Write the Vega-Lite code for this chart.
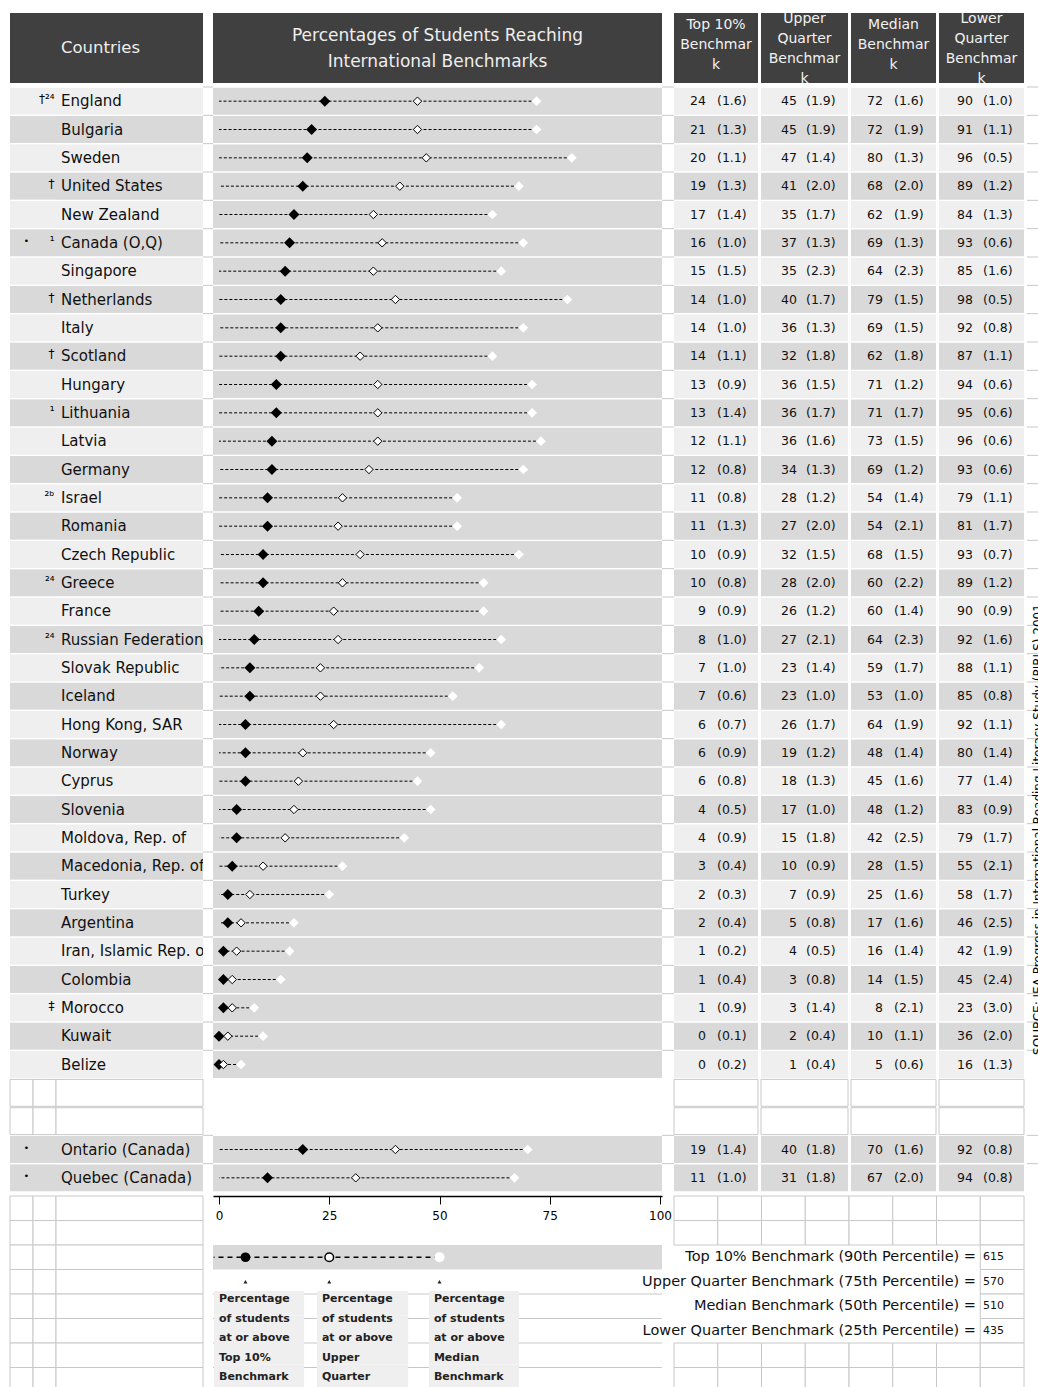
{
  "$schema": "https://vega.github.io/schema/vega-lite/v6.json",
  "padding": {"left": 9, "top": 13, "right": 0, "bottom": 0},
  "spacing": 3,
  "config": {"view": {"stroke": null}, "text": {"font": "DejaVu Sans"}, "axis": {"labelFont": "DejaVu Sans"}},
  "datasets": {
    "rows": [
      {"country": "England", "note": "†²⁴", "bullet": "", "shade": "light", "top10": 24, "top10SE": 1.6, "upper": 45, "upperSE": 1.9, "median": 72, "medianSE": 1.6, "lower": 90, "lowerSE": 1.0},
      {"country": "Bulgaria", "note": "", "bullet": "", "shade": "dark", "top10": 21, "top10SE": 1.3, "upper": 45, "upperSE": 1.9, "median": 72, "medianSE": 1.9, "lower": 91, "lowerSE": 1.1},
      {"country": "Sweden", "note": "", "bullet": "", "shade": "light", "top10": 20, "top10SE": 1.1, "upper": 47, "upperSE": 1.4, "median": 80, "medianSE": 1.3, "lower": 96, "lowerSE": 0.5},
      {"country": "United States", "note": "†", "bullet": "", "shade": "dark", "top10": 19, "top10SE": 1.3, "upper": 41, "upperSE": 2.0, "median": 68, "medianSE": 2.0, "lower": 89, "lowerSE": 1.2},
      {"country": "New Zealand", "note": "", "bullet": "", "shade": "light", "top10": 17, "top10SE": 1.4, "upper": 35, "upperSE": 1.7, "median": 62, "medianSE": 1.9, "lower": 84, "lowerSE": 1.3},
      {"country": "Canada (O,Q)", "note": "¹", "bullet": "•", "shade": "dark", "top10": 16, "top10SE": 1.0, "upper": 37, "upperSE": 1.3, "median": 69, "medianSE": 1.3, "lower": 93, "lowerSE": 0.6},
      {"country": "Singapore", "note": "", "bullet": "", "shade": "light", "top10": 15, "top10SE": 1.5, "upper": 35, "upperSE": 2.3, "median": 64, "medianSE": 2.3, "lower": 85, "lowerSE": 1.6},
      {"country": "Netherlands", "note": "†", "bullet": "", "shade": "dark", "top10": 14, "top10SE": 1.0, "upper": 40, "upperSE": 1.7, "median": 79, "medianSE": 1.5, "lower": 98, "lowerSE": 0.5},
      {"country": "Italy", "note": "", "bullet": "", "shade": "light", "top10": 14, "top10SE": 1.0, "upper": 36, "upperSE": 1.3, "median": 69, "medianSE": 1.5, "lower": 92, "lowerSE": 0.8},
      {"country": "Scotland", "note": "†", "bullet": "", "shade": "dark", "top10": 14, "top10SE": 1.1, "upper": 32, "upperSE": 1.8, "median": 62, "medianSE": 1.8, "lower": 87, "lowerSE": 1.1},
      {"country": "Hungary", "note": "", "bullet": "", "shade": "light", "top10": 13, "top10SE": 0.9, "upper": 36, "upperSE": 1.5, "median": 71, "medianSE": 1.2, "lower": 94, "lowerSE": 0.6},
      {"country": "Lithuania", "note": "¹", "bullet": "", "shade": "dark", "top10": 13, "top10SE": 1.4, "upper": 36, "upperSE": 1.7, "median": 71, "medianSE": 1.7, "lower": 95, "lowerSE": 0.6},
      {"country": "Latvia", "note": "", "bullet": "", "shade": "light", "top10": 12, "top10SE": 1.1, "upper": 36, "upperSE": 1.6, "median": 73, "medianSE": 1.5, "lower": 96, "lowerSE": 0.6},
      {"country": "Germany", "note": "", "bullet": "", "shade": "dark", "top10": 12, "top10SE": 0.8, "upper": 34, "upperSE": 1.3, "median": 69, "medianSE": 1.2, "lower": 93, "lowerSE": 0.6},
      {"country": "Israel", "note": "²ᵇ", "bullet": "", "shade": "light", "top10": 11, "top10SE": 0.8, "upper": 28, "upperSE": 1.2, "median": 54, "medianSE": 1.4, "lower": 79, "lowerSE": 1.1},
      {"country": "Romania", "note": "", "bullet": "", "shade": "dark", "top10": 11, "top10SE": 1.3, "upper": 27, "upperSE": 2.0, "median": 54, "medianSE": 2.1, "lower": 81, "lowerSE": 1.7},
      {"country": "Czech Republic", "note": "", "bullet": "", "shade": "light", "top10": 10, "top10SE": 0.9, "upper": 32, "upperSE": 1.5, "median": 68, "medianSE": 1.5, "lower": 93, "lowerSE": 0.7},
      {"country": "Greece", "note": "²⁴", "bullet": "", "shade": "dark", "top10": 10, "top10SE": 0.8, "upper": 28, "upperSE": 2.0, "median": 60, "medianSE": 2.2, "lower": 89, "lowerSE": 1.2},
      {"country": "France", "note": "", "bullet": "", "shade": "light", "top10": 9, "top10SE": 0.9, "upper": 26, "upperSE": 1.2, "median": 60, "medianSE": 1.4, "lower": 90, "lowerSE": 0.9},
      {"country": "Russian Federation", "note": "²⁴", "bullet": "", "shade": "dark", "top10": 8, "top10SE": 1.0, "upper": 27, "upperSE": 2.1, "median": 64, "medianSE": 2.3, "lower": 92, "lowerSE": 1.6},
      {"country": "Slovak Republic", "note": "", "bullet": "", "shade": "light", "top10": 7, "top10SE": 1.0, "upper": 23, "upperSE": 1.4, "median": 59, "medianSE": 1.7, "lower": 88, "lowerSE": 1.1},
      {"country": "Iceland", "note": "", "bullet": "", "shade": "dark", "top10": 7, "top10SE": 0.6, "upper": 23, "upperSE": 1.0, "median": 53, "medianSE": 1.0, "lower": 85, "lowerSE": 0.8},
      {"country": "Hong Kong, SAR", "note": "", "bullet": "", "shade": "light", "top10": 6, "top10SE": 0.7, "upper": 26, "upperSE": 1.7, "median": 64, "medianSE": 1.9, "lower": 92, "lowerSE": 1.1},
      {"country": "Norway", "note": "", "bullet": "", "shade": "dark", "top10": 6, "top10SE": 0.9, "upper": 19, "upperSE": 1.2, "median": 48, "medianSE": 1.4, "lower": 80, "lowerSE": 1.4},
      {"country": "Cyprus", "note": "", "bullet": "", "shade": "light", "top10": 6, "top10SE": 0.8, "upper": 18, "upperSE": 1.3, "median": 45, "medianSE": 1.6, "lower": 77, "lowerSE": 1.4},
      {"country": "Slovenia", "note": "", "bullet": "", "shade": "dark", "top10": 4, "top10SE": 0.5, "upper": 17, "upperSE": 1.0, "median": 48, "medianSE": 1.2, "lower": 83, "lowerSE": 0.9},
      {"country": "Moldova, Rep. of", "note": "", "bullet": "", "shade": "light", "top10": 4, "top10SE": 0.9, "upper": 15, "upperSE": 1.8, "median": 42, "medianSE": 2.5, "lower": 79, "lowerSE": 1.7},
      {"country": "Macedonia, Rep. of", "note": "", "bullet": "", "shade": "dark", "top10": 3, "top10SE": 0.4, "upper": 10, "upperSE": 0.9, "median": 28, "medianSE": 1.5, "lower": 55, "lowerSE": 2.1},
      {"country": "Turkey", "note": "", "bullet": "", "shade": "light", "top10": 2, "top10SE": 0.3, "upper": 7, "upperSE": 0.9, "median": 25, "medianSE": 1.6, "lower": 58, "lowerSE": 1.7},
      {"country": "Argentina", "note": "", "bullet": "", "shade": "dark", "top10": 2, "top10SE": 0.4, "upper": 5, "upperSE": 0.8, "median": 17, "medianSE": 1.6, "lower": 46, "lowerSE": 2.5},
      {"country": "Iran, Islamic Rep. of", "note": "", "bullet": "", "shade": "light", "top10": 1, "top10SE": 0.2, "upper": 4, "upperSE": 0.5, "median": 16, "medianSE": 1.4, "lower": 42, "lowerSE": 1.9},
      {"country": "Colombia", "note": "", "bullet": "", "shade": "dark", "top10": 1, "top10SE": 0.4, "upper": 3, "upperSE": 0.8, "median": 14, "medianSE": 1.5, "lower": 45, "lowerSE": 2.4},
      {"country": "Morocco", "note": "‡", "bullet": "", "shade": "light", "top10": 1, "top10SE": 0.9, "upper": 3, "upperSE": 1.4, "median": 8, "medianSE": 2.1, "lower": 23, "lowerSE": 3.0},
      {"country": "Kuwait", "note": "", "bullet": "", "shade": "dark", "top10": 0, "top10SE": 0.1, "upper": 2, "upperSE": 0.4, "median": 10, "medianSE": 1.1, "lower": 36, "lowerSE": 2.0},
      {"country": "Belize", "note": "", "bullet": "", "shade": "light", "top10": 0, "top10SE": 0.2, "upper": 1, "upperSE": 0.4, "median": 5, "medianSE": 0.6, "lower": 16, "lowerSE": 1.3},
      {"country": "Ontario (Canada)", "note": "", "bullet": "•", "shade": "dark", "top10": 19, "top10SE": 1.4, "upper": 40, "upperSE": 1.8, "median": 70, "medianSE": 1.6, "lower": 92, "lowerSE": 0.8},
      {"country": "Quebec (Canada)", "note": "", "bullet": "•", "shade": "dark", "top10": 11, "top10SE": 1.0, "upper": 31, "upperSE": 1.8, "median": 67, "medianSE": 2.0, "lower": 94, "lowerSE": 0.8}
    ],
    "blanks": [{"country": "blank1"}, {"country": "blank2"}],
    "footrows": [{"r": "f0"}, {"r": "f1"}, {"r": "f2"}, {"r": "f3"}, {"r": "f4"}, {"r": "f5"}, {"r": "f6"}, {"r": "f7"}],
    "legend": [
      {"kind": "top", "value": 6, "boxStart": -1.13, "boxEnd": 19.3, "label": "Percentage\nof students\nat or above\nTop 10%\nBenchmark"},
      {"kind": "upper", "value": 25, "boxStart": 22.2, "boxEnd": 42.9, "label": "Percentage\nof students\nat or above\nUpper\nQuarter\nBenchmark"},
      {"kind": "median", "value": 50, "boxStart": 47.6, "boxEnd": 68, "label": "Percentage\nof students\nat or above\nMedian\nBenchmark"}
    ],
    "boxcells": [
      {"kind": "top", "r": "f4"}, {"kind": "top", "r": "f5"}, {"kind": "top", "r": "f6"}, {"kind": "top", "r": "f7"},
      {"kind": "upper", "r": "f4"}, {"kind": "upper", "r": "f5"}, {"kind": "upper", "r": "f6"}, {"kind": "upper", "r": "f7"},
      {"kind": "median", "r": "f4"}, {"kind": "median", "r": "f5"}, {"kind": "median", "r": "f6"}, {"kind": "median", "r": "f7"}
    ],
    "bench": [
      {"r": "f2", "label": "Top 10% Benchmark (90th Percentile) =", "value": "615"},
      {"r": "f3", "label": "Upper Quarter Benchmark (75th Percentile) =", "value": "570"},
      {"r": "f4", "label": "Median Benchmark (50th Percentile) =", "value": "510"},
      {"r": "f5", "label": "Lower Quarter Benchmark (25th Percentile) =", "value": "435"}
    ],
    "cells": [
      {"r": "f0", "c": "c1"}, {"r": "f0", "c": "c2"}, {"r": "f0", "c": "c3"}, {"r": "f0", "c": "c4"}, {"r": "f0", "c": "c5"}, {"r": "f0", "c": "c6"}, {"r": "f0", "c": "c7"}, {"r": "f0", "c": "c8"},
      {"r": "f1", "c": "c1"}, {"r": "f1", "c": "c2"}, {"r": "f1", "c": "c3"}, {"r": "f1", "c": "c4"}, {"r": "f1", "c": "c5"}, {"r": "f1", "c": "c6"}, {"r": "f1", "c": "c7"}, {"r": "f1", "c": "c8"},
      {"r": "f2", "c": "c8"}, {"r": "f3", "c": "c8"}, {"r": "f4", "c": "c8"}, {"r": "f5", "c": "c8"},
      {"r": "f6", "c": "c1"}, {"r": "f6", "c": "c2"}, {"r": "f6", "c": "c3"}, {"r": "f6", "c": "c4"}, {"r": "f6", "c": "c5"}, {"r": "f6", "c": "c6"}, {"r": "f6", "c": "c7"}, {"r": "f6", "c": "c8"},
      {"r": "f7", "c": "c1"}, {"r": "f7", "c": "c2"}, {"r": "f7", "c": "c3"}, {"r": "f7", "c": "c4"}, {"r": "f7", "c": "c5"}, {"r": "f7", "c": "c6"}, {"r": "f7", "c": "c7"}, {"r": "f7", "c": "c8"}
    ]
  },
  "vconcat": [
    {
      "hconcat": [
        {"width": 193, "height": 70, "view": {"fill": "#404040"}, "data": {"values": [{"h": "Countries"}]},
         "mark": {"type": "text", "fontSize": 16.5, "color": "#eeeeee", "dx": -6}, "encoding": {"text": {"field": "h", "type": "nominal"}}},
        {"width": 10, "height": 70, "data": {"values": [{}]}, "mark": {"type": "text", "text": ""}},
        {"width": 449, "height": 70, "view": {"fill": "#404040"}, "data": {"values": [{"h": "Percentages of Students Reaching\nInternational Benchmarks"}]},
         "mark": {"type": "text", "fontSize": 17, "lineBreak": "\n", "lineHeight": 26, "color": "#eeeeee", "dy": -12}, "encoding": {"text": {"field": "h", "type": "nominal"}}},
        {"width": 12, "height": 70, "data": {"values": [{}]}, "mark": {"type": "text", "text": ""}},
        {"width": 84, "height": 70, "view": {"fill": "#404040"}, "data": {"values": [{"h": "Top 10%\nBenchmar\nk"}]},
         "mark": {"type": "text", "fontSize": 14, "lineBreak": "\n", "lineHeight": 20, "color": "#f2f2f2", "dy": -23, "clip": true}, "encoding": {"text": {"field": "h", "type": "nominal"}}},
        {"width": 3, "height": 70, "data": {"values": [{}]}, "mark": {"type": "text", "text": ""}},
        {"width": 87, "height": 70, "view": {"fill": "#404040"}, "data": {"values": [{"h": "Upper\nQuarter\nBenchmar\nk"}]},
         "mark": {"type": "text", "fontSize": 14, "lineBreak": "\n", "lineHeight": 20, "color": "#f2f2f2", "dy": -29, "clip": true}, "encoding": {"text": {"field": "h", "type": "nominal"}}},
        {"width": 3, "height": 70, "data": {"values": [{}]}, "mark": {"type": "text", "text": ""}},
        {"width": 85, "height": 70, "view": {"fill": "#404040"}, "data": {"values": [{"h": "Median\nBenchmar\nk"}]},
         "mark": {"type": "text", "fontSize": 14, "lineBreak": "\n", "lineHeight": 20, "color": "#f2f2f2", "dy": -23, "clip": true}, "encoding": {"text": {"field": "h", "type": "nominal"}}},
        {"width": 3, "height": 70, "data": {"values": [{}]}, "mark": {"type": "text", "text": ""}},
        {"width": 85, "height": 70, "view": {"fill": "#404040"}, "data": {"values": [{"h": "Lower\nQuarter\nBenchmar\nk"}]},
         "mark": {"type": "text", "fontSize": 14, "lineBreak": "\n", "lineHeight": 20, "color": "#f2f2f2", "dy": -29, "clip": true}, "encoding": {"text": {"field": "h", "type": "nominal"}}}
      ],
      "spacing": 0, "bounds": "flush"
    },
    {
      "hconcat": [
        {"width": 23, "height": 1105, "data": {"name": "rows"},
         "layer": [
           {"mark": {"type": "rect"}, "encoding": {
             "y": {"field": "country", "type": "nominal", "axis": null, "scale": {"domain": ["England","Bulgaria","Sweden","United States","New Zealand","Canada (O,Q)","Singapore","Netherlands","Italy","Scotland","Hungary","Lithuania","Latvia","Germany","Israel","Romania","Czech Republic","Greece","France","Russian Federation","Slovak Republic","Iceland","Hong Kong, SAR","Norway","Cyprus","Slovenia","Moldova, Rep. of","Macedonia, Rep. of","Turkey","Argentina","Iran, Islamic Rep. of","Colombia","Morocco","Kuwait","Belize","blank1","blank2","Ontario (Canada)","Quebec (Canada)"], "paddingInner": 0.05, "paddingOuter": 0.025}},
             "color": {"field": "shade", "type": "nominal", "legend": null, "scale": {"domain": ["light", "dark"], "range": ["#efefef", "#d9d9d9"]}}}},
           {"data": {"name": "blanks"}, "mark": {"type": "rect", "fill": "#ffffff", "stroke": "#c8c8c8", "strokeWidth": 1}, "encoding": {"y": {"field": "country", "type": "nominal", "axis": null}}},
           {"mark": {"type": "text", "fontSize": 9, "dx": 5, "dy": -2, "color": "#000000"}, "encoding": {"y": {"field": "country", "type": "nominal", "axis": null}, "text": {"field": "bullet", "type": "nominal"}}}
         ]},
        {"width": 23, "height": 1105, "data": {"name": "rows"},
         "layer": [
           {"mark": {"type": "rect"}, "encoding": {
             "y": {"field": "country", "type": "nominal", "axis": null, "scale": {"domain": ["England","Bulgaria","Sweden","United States","New Zealand","Canada (O,Q)","Singapore","Netherlands","Italy","Scotland","Hungary","Lithuania","Latvia","Germany","Israel","Romania","Czech Republic","Greece","France","Russian Federation","Slovak Republic","Iceland","Hong Kong, SAR","Norway","Cyprus","Slovenia","Moldova, Rep. of","Macedonia, Rep. of","Turkey","Argentina","Iran, Islamic Rep. of","Colombia","Morocco","Kuwait","Belize","blank1","blank2","Ontario (Canada)","Quebec (Canada)"], "paddingInner": 0.05, "paddingOuter": 0.025}},
             "color": {"field": "shade", "type": "nominal", "legend": null, "scale": {"domain": ["light", "dark"], "range": ["#efefef", "#d9d9d9"]}}}},
           {"data": {"name": "blanks"}, "mark": {"type": "rect", "fill": "#ffffff", "stroke": "#c8c8c8", "strokeWidth": 1}, "encoding": {"y": {"field": "country", "type": "nominal", "axis": null}}},
           {"mark": {"type": "text", "fontSize": 12, "align": "right", "dx": 10, "dy": -2, "color": "#000000"}, "encoding": {"y": {"field": "country", "type": "nominal", "axis": null}, "text": {"field": "note", "type": "nominal"}}}
         ]},
        {"width": 147, "height": 1105, "data": {"name": "rows"},
         "layer": [
           {"mark": {"type": "rect"}, "encoding": {
             "y": {"field": "country", "type": "nominal", "axis": null, "scale": {"domain": ["England","Bulgaria","Sweden","United States","New Zealand","Canada (O,Q)","Singapore","Netherlands","Italy","Scotland","Hungary","Lithuania","Latvia","Germany","Israel","Romania","Czech Republic","Greece","France","Russian Federation","Slovak Republic","Iceland","Hong Kong, SAR","Norway","Cyprus","Slovenia","Moldova, Rep. of","Macedonia, Rep. of","Turkey","Argentina","Iran, Islamic Rep. of","Colombia","Morocco","Kuwait","Belize","blank1","blank2","Ontario (Canada)","Quebec (Canada)"], "paddingInner": 0.05, "paddingOuter": 0.025}},
             "color": {"field": "shade", "type": "nominal", "legend": null, "scale": {"domain": ["light", "dark"], "range": ["#efefef", "#d9d9d9"]}}}},
           {"data": {"name": "blanks"}, "mark": {"type": "rect", "fill": "#ffffff", "stroke": "#c8c8c8", "strokeWidth": 1}, "encoding": {"y": {"field": "country", "type": "nominal", "axis": null}}},
           {"mark": {"type": "text", "fontSize": 15, "align": "left", "dx": -68.5, "clip": true, "color": "#111111"}, "encoding": {"y": {"field": "country", "type": "nominal", "axis": null}, "text": {"field": "country", "type": "nominal"}}}
         ]},
        {"width": 10, "height": 1105, "data": {"name": "rows"},
         "mark": {"type": "rule", "color": "#c8c8c8", "strokeWidth": 1, "yOffset": -14.17},
         "encoding": {"y": {"field": "country", "type": "nominal", "axis": null, "scale": {"domain": ["England","Bulgaria","Sweden","United States","New Zealand","Canada (O,Q)","Singapore","Netherlands","Italy","Scotland","Hungary","Lithuania","Latvia","Germany","Israel","Romania","Czech Republic","Greece","France","Russian Federation","Slovak Republic","Iceland","Hong Kong, SAR","Norway","Cyprus","Slovenia","Moldova, Rep. of","Macedonia, Rep. of","Turkey","Argentina","Iran, Islamic Rep. of","Colombia","Morocco","Kuwait","Belize","blank1","blank2","Ontario (Canada)","Quebec (Canada)"], "paddingInner": 0.05, "paddingOuter": 0.025}}}},
        {"width": 449, "height": 1105, "data": {"name": "rows"},
         "layer": [
           {"mark": {"type": "rect", "fill": "#d9d9d9"}, "encoding": {
             "y": {"field": "country", "type": "nominal", "axis": null, "scale": {"domain": ["England","Bulgaria","Sweden","United States","New Zealand","Canada (O,Q)","Singapore","Netherlands","Italy","Scotland","Hungary","Lithuania","Latvia","Germany","Israel","Romania","Czech Republic","Greece","France","Russian Federation","Slovak Republic","Iceland","Hong Kong, SAR","Norway","Cyprus","Slovenia","Moldova, Rep. of","Macedonia, Rep. of","Turkey","Argentina","Iran, Islamic Rep. of","Colombia","Morocco","Kuwait","Belize","blank1","blank2","Ontario (Canada)","Quebec (Canada)"], "paddingInner": 0.05, "paddingOuter": 0.025}}}},
           {"mark": {"type": "rule", "color": "#000000", "strokeWidth": 1, "strokeDash": [3, 2]}, "encoding": {
             "y": {"field": "country", "type": "nominal", "axis": null},
             "x": {"field": "median", "type": "quantitative", "axis": null, "scale": {"domain": [-1.36, 100.45], "nice": false, "zero": false}},
             "x2": {"datum": 0}}},
           {"mark": {"type": "point", "shape": "diamond", "filled": true, "fill": "#ffffff", "strokeWidth": 0, "size": 95, "opacity": 1}, "encoding": {
             "y": {"field": "country", "type": "nominal", "axis": null}, "x": {"field": "median", "type": "quantitative"}}},
           {"mark": {"type": "point", "shape": "diamond", "filled": true, "fill": "#000000", "strokeWidth": 0, "size": 120, "opacity": 1}, "encoding": {
             "y": {"field": "country", "type": "nominal", "axis": null}, "x": {"field": "top10", "type": "quantitative"}}},
           {"mark": {"type": "point", "shape": "diamond", "filled": true, "fill": "#ffffff", "stroke": "#000000", "strokeWidth": 1, "size": 70, "opacity": 1}, "encoding": {
             "y": {"field": "country", "type": "nominal", "axis": null}, "x": {"field": "upper", "type": "quantitative"}}}
         ]},
        {"width": 12, "height": 1105, "data": {"name": "rows"},
         "mark": {"type": "rule", "color": "#c8c8c8", "strokeWidth": 1, "yOffset": -14.17},
         "encoding": {"y": {"field": "country", "type": "nominal", "axis": null, "scale": {"domain": ["England","Bulgaria","Sweden","United States","New Zealand","Canada (O,Q)","Singapore","Netherlands","Italy","Scotland","Hungary","Lithuania","Latvia","Germany","Israel","Romania","Czech Republic","Greece","France","Russian Federation","Slovak Republic","Iceland","Hong Kong, SAR","Norway","Cyprus","Slovenia","Moldova, Rep. of","Macedonia, Rep. of","Turkey","Argentina","Iran, Islamic Rep. of","Colombia","Morocco","Kuwait","Belize","blank1","blank2","Ontario (Canada)","Quebec (Canada)"], "paddingInner": 0.05, "paddingOuter": 0.025}}}},
        {"width": 84, "height": 1105, "data": {"name": "rows"},
         "layer": [
           {"mark": {"type": "rect"}, "encoding": {
             "y": {"field": "country", "type": "nominal", "axis": null, "scale": {"domain": ["England","Bulgaria","Sweden","United States","New Zealand","Canada (O,Q)","Singapore","Netherlands","Italy","Scotland","Hungary","Lithuania","Latvia","Germany","Israel","Romania","Czech Republic","Greece","France","Russian Federation","Slovak Republic","Iceland","Hong Kong, SAR","Norway","Cyprus","Slovenia","Moldova, Rep. of","Macedonia, Rep. of","Turkey","Argentina","Iran, Islamic Rep. of","Colombia","Morocco","Kuwait","Belize","blank1","blank2","Ontario (Canada)","Quebec (Canada)"], "paddingInner": 0.05, "paddingOuter": 0.025}},
             "color": {"field": "shade", "type": "nominal", "legend": null, "scale": {"domain": ["light", "dark"], "range": ["#efefef", "#d9d9d9"]}}}},
           {"data": {"name": "blanks"}, "mark": {"type": "rect", "fill": "#ffffff", "stroke": "#c8c8c8", "strokeWidth": 1}, "encoding": {"y": {"field": "country", "type": "nominal", "axis": null}}},
           {"mark": {"type": "text", "fontSize": 12.5, "align": "right", "dx": -10, "color": "#111111"}, "encoding": {"y": {"field": "country", "type": "nominal", "axis": null}, "text": {"field": "top10", "type": "nominal"}}},
           {"transform": [{"calculate": "'(' + format(datum.top10SE, '.1f') + ')'", "as": "se"}],
            "mark": {"type": "text", "fontSize": 12.5, "align": "left", "dx": 1, "color": "#111111"}, "encoding": {"y": {"field": "country", "type": "nominal", "axis": null}, "text": {"field": "se", "type": "nominal"}}}
         ]},
        {"width": 3, "height": 1105, "data": {"values": [{}]}, "mark": {"type": "text", "text": ""}},
        {"width": 87, "height": 1105, "data": {"name": "rows"},
         "layer": [
           {"mark": {"type": "rect"}, "encoding": {
             "y": {"field": "country", "type": "nominal", "axis": null, "scale": {"domain": ["England","Bulgaria","Sweden","United States","New Zealand","Canada (O,Q)","Singapore","Netherlands","Italy","Scotland","Hungary","Lithuania","Latvia","Germany","Israel","Romania","Czech Republic","Greece","France","Russian Federation","Slovak Republic","Iceland","Hong Kong, SAR","Norway","Cyprus","Slovenia","Moldova, Rep. of","Macedonia, Rep. of","Turkey","Argentina","Iran, Islamic Rep. of","Colombia","Morocco","Kuwait","Belize","blank1","blank2","Ontario (Canada)","Quebec (Canada)"], "paddingInner": 0.05, "paddingOuter": 0.025}},
             "color": {"field": "shade", "type": "nominal", "legend": null, "scale": {"domain": ["light", "dark"], "range": ["#efefef", "#d9d9d9"]}}}},
           {"data": {"name": "blanks"}, "mark": {"type": "rect", "fill": "#ffffff", "stroke": "#c8c8c8", "strokeWidth": 1}, "encoding": {"y": {"field": "country", "type": "nominal", "axis": null}}},
           {"mark": {"type": "text", "fontSize": 12.5, "align": "right", "dx": -7.5, "color": "#111111"}, "encoding": {"y": {"field": "country", "type": "nominal", "axis": null}, "text": {"field": "upper", "type": "nominal"}}},
           {"transform": [{"calculate": "'(' + format(datum.upperSE, '.1f') + ')'", "as": "se"}],
            "mark": {"type": "text", "fontSize": 12.5, "align": "left", "dx": 1.5, "color": "#111111"}, "encoding": {"y": {"field": "country", "type": "nominal", "axis": null}, "text": {"field": "se", "type": "nominal"}}}
         ]},
        {"width": 3, "height": 1105, "data": {"values": [{}]}, "mark": {"type": "text", "text": ""}},
        {"width": 85, "height": 1105, "data": {"name": "rows"},
         "layer": [
           {"mark": {"type": "rect"}, "encoding": {
             "y": {"field": "country", "type": "nominal", "axis": null, "scale": {"domain": ["England","Bulgaria","Sweden","United States","New Zealand","Canada (O,Q)","Singapore","Netherlands","Italy","Scotland","Hungary","Lithuania","Latvia","Germany","Israel","Romania","Czech Republic","Greece","France","Russian Federation","Slovak Republic","Iceland","Hong Kong, SAR","Norway","Cyprus","Slovenia","Moldova, Rep. of","Macedonia, Rep. of","Turkey","Argentina","Iran, Islamic Rep. of","Colombia","Morocco","Kuwait","Belize","blank1","blank2","Ontario (Canada)","Quebec (Canada)"], "paddingInner": 0.05, "paddingOuter": 0.025}},
             "color": {"field": "shade", "type": "nominal", "legend": null, "scale": {"domain": ["light", "dark"], "range": ["#efefef", "#d9d9d9"]}}}},
           {"data": {"name": "blanks"}, "mark": {"type": "rect", "fill": "#ffffff", "stroke": "#c8c8c8", "strokeWidth": 1}, "encoding": {"y": {"field": "country", "type": "nominal", "axis": null}}},
           {"mark": {"type": "text", "fontSize": 12.5, "align": "right", "dx": -10.5, "color": "#111111"}, "encoding": {"y": {"field": "country", "type": "nominal", "axis": null}, "text": {"field": "median", "type": "nominal"}}},
           {"transform": [{"calculate": "'(' + format(datum.medianSE, '.1f') + ')'", "as": "se"}],
            "mark": {"type": "text", "fontSize": 12.5, "align": "left", "dx": 0.5, "color": "#111111"}, "encoding": {"y": {"field": "country", "type": "nominal", "axis": null}, "text": {"field": "se", "type": "nominal"}}}
         ]},
        {"width": 3, "height": 1105, "data": {"values": [{}]}, "mark": {"type": "text", "text": ""}},
        {"width": 85, "height": 1105, "data": {"name": "rows"},
         "layer": [
           {"mark": {"type": "rect"}, "encoding": {
             "y": {"field": "country", "type": "nominal", "axis": null, "scale": {"domain": ["England","Bulgaria","Sweden","United States","New Zealand","Canada (O,Q)","Singapore","Netherlands","Italy","Scotland","Hungary","Lithuania","Latvia","Germany","Israel","Romania","Czech Republic","Greece","France","Russian Federation","Slovak Republic","Iceland","Hong Kong, SAR","Norway","Cyprus","Slovenia","Moldova, Rep. of","Macedonia, Rep. of","Turkey","Argentina","Iran, Islamic Rep. of","Colombia","Morocco","Kuwait","Belize","blank1","blank2","Ontario (Canada)","Quebec (Canada)"], "paddingInner": 0.05, "paddingOuter": 0.025}},
             "color": {"field": "shade", "type": "nominal", "legend": null, "scale": {"domain": ["light", "dark"], "range": ["#efefef", "#d9d9d9"]}}}},
           {"data": {"name": "blanks"}, "mark": {"type": "rect", "fill": "#ffffff", "stroke": "#c8c8c8", "strokeWidth": 1}, "encoding": {"y": {"field": "country", "type": "nominal", "axis": null}}},
           {"mark": {"type": "text", "fontSize": 12.5, "align": "right", "dx": -8.5, "color": "#111111"}, "encoding": {"y": {"field": "country", "type": "nominal", "axis": null}, "text": {"field": "lower", "type": "nominal"}}},
           {"transform": [{"calculate": "'(' + format(datum.lowerSE, '.1f') + ')'", "as": "se"}],
            "mark": {"type": "text", "fontSize": 12.5, "align": "left", "dx": 1.5, "color": "#111111"}, "encoding": {"y": {"field": "country", "type": "nominal", "axis": null}, "text": {"field": "se", "type": "nominal"}}}
         ]},
        {"width": 3, "height": 1105, "data": {"values": [{}]}, "mark": {"type": "text", "text": ""}},
        {"width": 12, "height": 1105, "data": {"name": "rows"},
         "layer": [
           {"mark": {"type": "rule", "color": "#c8c8c8", "strokeWidth": 1, "yOffset": -14.17}, "encoding": {
             "y": {"field": "country", "type": "nominal", "axis": null, "scale": {"domain": ["England","Bulgaria","Sweden","United States","New Zealand","Canada (O,Q)","Singapore","Netherlands","Italy","Scotland","Hungary","Lithuania","Latvia","Germany","Israel","Romania","Czech Republic","Greece","France","Russian Federation","Slovak Republic","Iceland","Hong Kong, SAR","Norway","Cyprus","Slovenia","Moldova, Rep. of","Macedonia, Rep. of","Turkey","Argentina","Iran, Islamic Rep. of","Colombia","Morocco","Kuwait","Belize","blank1","blank2","Ontario (Canada)","Quebec (Canada)"], "paddingInner": 0.05, "paddingOuter": 0.025}}}},
           {"data": {"values": [{"t": "SOURCE: IEA Progress in International Reading Literacy Study (PIRLS) 2001"}]},
            "mark": {"type": "text", "angle": 270, "fontSize": 12, "baseline": "alphabetic", "dx": -190, "dy": 9, "color": "#000000"}, "encoding": {"text": {"field": "t", "type": "nominal"}}}
         ]}
      ],
      "spacing": 0, "bounds": "flush"
    },
    {
      "hconcat": [
        {"width": 23, "height": 196, "data": {"name": "footrows"}, "mark": {"type": "rect", "fill": "#ffffff", "stroke": "#c8c8c8", "strokeWidth": 1},
         "encoding": {"y": {"field": "r", "type": "nominal", "axis": null, "scale": {"domain": ["f0","f1","f2","f3","f4","f5","f6","f7"], "paddingInner": 0, "paddingOuter": 0}}}},
        {"width": 23, "height": 196, "data": {"name": "footrows"}, "mark": {"type": "rect", "fill": "#ffffff", "stroke": "#c8c8c8", "strokeWidth": 1},
         "encoding": {"y": {"field": "r", "type": "nominal", "axis": null, "scale": {"domain": ["f0","f1","f2","f3","f4","f5","f6","f7"], "paddingInner": 0, "paddingOuter": 0}}}},
        {"width": 147, "height": 196, "data": {"name": "footrows"}, "mark": {"type": "rect", "fill": "#ffffff", "stroke": "#c8c8c8", "strokeWidth": 1},
         "encoding": {"y": {"field": "r", "type": "nominal", "axis": null, "scale": {"domain": ["f0","f1","f2","f3","f4","f5","f6","f7"], "paddingInner": 0, "paddingOuter": 0}}}},
        {"width": 10, "height": 196, "data": {"values": [{}]}, "mark": {"type": "text", "text": ""}},
        {"width": 449, "height": 196, "data": {"name": "legend"},
         "layer": [
           {"data": {"values": [{"r": "f4"}, {"r": "f5"}, {"r": "f6"}, {"r": "f7"}]}, "mark": {"type": "rule", "color": "#c8c8c8", "strokeWidth": 1, "yOffset": -12.25},
            "encoding": {"y": {"field": "r", "type": "nominal", "axis": null, "scale": {"domain": ["f0","f1","f2","f3","f4","f5","f6","f7"], "paddingInner": 0, "paddingOuter": 0}}}},
           {"data": {"values": [{"r": "f2"}]}, "mark": {"type": "rect", "fill": "#d9d9d9"}, "encoding": {"y": {"field": "r", "type": "nominal", "axis": null}}},
           {"transform": [{"filter": "datum.kind == 'median'"}], "mark": {"type": "rule", "color": "#000000", "strokeWidth": 1.3, "strokeDash": [5, 4]},
            "encoding": {"y": {"datum": "f2", "type": "nominal", "axis": null},
                         "x": {"field": "value", "type": "quantitative", "scale": {"domain": [-1.36, 100.45], "nice": false, "zero": false},
                               "axis": {"values": [0, 25, 50, 75, 100], "title": null, "orient": "bottom", "offset": -196, "grid": false, "tickSize": 8, "tickColor": "#000000", "tickWidth": 1, "domainColor": "#000000", "domainWidth": 1.5, "labelFontSize": 12, "labelColor": "#000000", "labelPadding": 6, "labelFlush": false, "labelAngle": 0}},
                         "x2": {"datum": -1.2}}},
           {"transform": [{"filter": "datum.kind == 'median'"}], "mark": {"type": "circle", "color": "#ffffff", "size": 100, "opacity": 1},
            "encoding": {"y": {"datum": "f2", "type": "nominal", "axis": null}, "x": {"field": "value", "type": "quantitative"}}},
           {"transform": [{"filter": "datum.kind == 'top'"}], "mark": {"type": "circle", "color": "#000000", "size": 95, "opacity": 1},
            "encoding": {"y": {"datum": "f2", "type": "nominal", "axis": null}, "x": {"field": "value", "type": "quantitative"}}},
           {"transform": [{"filter": "datum.kind == 'upper'"}], "mark": {"type": "point", "shape": "circle", "filled": true, "fill": "#ffffff", "stroke": "#000000", "strokeWidth": 1.5, "size": 75, "opacity": 1},
            "encoding": {"y": {"datum": "f2", "type": "nominal", "axis": null}, "x": {"field": "value", "type": "quantitative"}}},
           {"mark": {"type": "point", "shape": "triangle-up", "filled": true, "color": "#222222", "size": 16, "opacity": 1},
            "encoding": {"y": {"datum": "f3", "type": "nominal", "axis": null}, "x": {"field": "value", "type": "quantitative"}}},
           {"data": {"name": "boxcells"},
            "transform": [{"lookup": "kind", "from": {"data": {"name": "legend"}, "key": "kind", "fields": ["boxStart", "boxEnd"]}}],
            "mark": {"type": "rect", "fill": "#efefef", "yOffset": -3},
            "encoding": {"x": {"field": "boxStart", "type": "quantitative"}, "x2": {"field": "boxEnd"},
                         "y": {"field": "r", "type": "nominal", "axis": null}}},
           {"mark": {"type": "text", "align": "left", "baseline": "top", "dx": 5, "dy": -13, "lineBreak": "\n", "lineHeight": 19.5, "fontSize": 11, "fontWeight": "bold", "color": "#222222"},
            "encoding": {"x": {"field": "boxStart", "type": "quantitative"}, "y": {"datum": "f4", "type": "nominal", "axis": null}, "text": {"field": "label", "type": "nominal"}}}
         ]},
        {"width": 12, "height": 196, "data": {"values": [{}]}, "mark": {"type": "text", "text": ""}},
        {"width": 350, "height": 196,
         "layer": [
           {"data": {"name": "cells"}, "mark": {"type": "rect", "fill": "#ffffff", "stroke": "#c8c8c8", "strokeWidth": 1},
            "encoding": {"x": {"field": "c", "type": "nominal", "axis": null, "scale": {"domain": ["c1","c2","c3","c4","c5","c6","c7","c8"], "paddingInner": 0, "paddingOuter": 0}},
                         "y": {"field": "r", "type": "nominal", "axis": null, "scale": {"domain": ["f0","f1","f2","f3","f4","f5","f6","f7"], "paddingInner": 0, "paddingOuter": 0}}}},
           {"data": {"name": "bench"}, "mark": {"type": "text", "align": "right", "dx": 127, "fontSize": 14.5, "color": "#111111"},
            "encoding": {"y": {"field": "r", "type": "nominal", "axis": null}, "text": {"field": "label", "type": "nominal"}}},
           {"data": {"name": "bench"}, "mark": {"type": "text", "align": "left", "dx": 134, "fontSize": 11, "color": "#111111"},
            "encoding": {"y": {"field": "r", "type": "nominal", "axis": null}, "text": {"field": "value", "type": "nominal"}}}
         ]}
      ],
      "spacing": 0, "bounds": "flush"
    }
  ]
}
